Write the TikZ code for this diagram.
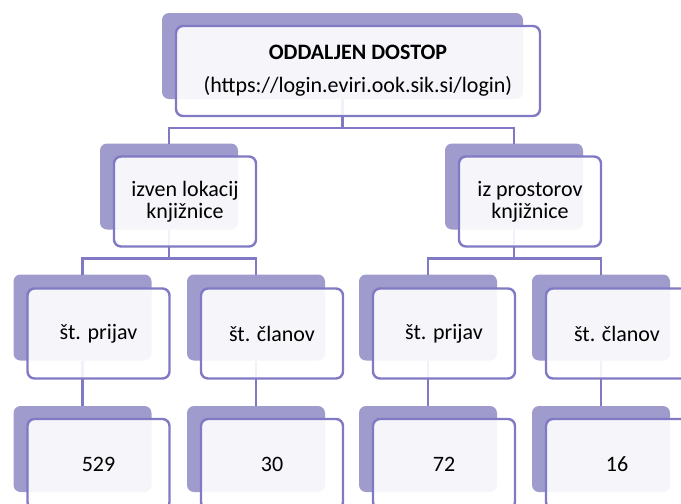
\documentclass[tikz,border=0pt]{standalone}
\usepackage{fontspec}
\setmainfont{Carlito}
\definecolor{backc}{RGB}{160,155,205}
\definecolor{linec}{RGB}{128,122,196}
\begin{document}
\begin{tikzpicture}[x=1pt,y=-1pt,
 backbox/.style={draw=none, fill=backc, rounded corners=7pt, minimum width=138pt, minimum height=86pt, inner sep=0pt, outer sep=0pt},
 frontbox/.style={draw=linec, line width=2.4pt, fill=white, fill opacity=0.9, text opacity=1, rounded corners=7pt, minimum width=142pt, minimum height=90pt, align=center, font=\fontsize{22}{22}\selectfont, inner sep=2pt},
 conn/.style={draw=linec, line width=2.4pt}]
\useasboundingbox (0,0) rectangle (681,504);
% back shapes
\node[backbox, minimum width=361pt] (b0) at (342.5,56) {};
\node[backbox] (b1) at (169,186.5) {};
\node[backbox] (b2) at (514,186.5) {};
\node[backbox] (b3) at (82.5,317.5) {};
\node[backbox] (b4) at (256,317.5) {};
\node[backbox] (b5) at (428,317.5) {};
\node[backbox] (b6) at (601,317.5) {};
\node[backbox] (b7) at (82.5,449) {};
\node[backbox] (b8) at (256,449) {};
\node[backbox] (b9) at (428,449) {};
\node[backbox] (b10) at (601,449) {};
% connectors
\draw[conn] (b0.south) -- ++(0,29) -| (b1.north);
\draw[conn] (b0.south) -- ++(0,29) -| (b2.north);
\draw[conn] (b1.south) -- ++(0,29) -| (b3.north);
\draw[conn] (b1.south) -- ++(0,29) -| (b4.north);
\draw[conn] (b2.south) -- ++(0,29) -| (b5.north);
\draw[conn] (b2.south) -- ++(0,29) -| (b6.north);
\draw[conn] (b3.south) -- (b7.north);
\draw[conn] (b4.south) -- (b8.north);
\draw[conn] (b5.south) -- (b9.north);
\draw[conn] (b6.south) -- (b10.north);
% front shapes
\node[frontbox, minimum width=364pt] (f0) at (358,71) {\textbf{ODDALJEN DOSTOP}\\[11pt](https://login.eviri.ook.sik.si/login)};
\node[frontbox] (f1) at (185,201.5) {izven lokacij\\knjižnice};
\node[frontbox] (f2) at (530,201.5) {iz prostorov\\knjižnice};
\node[frontbox] (f3) at (98.5,333.5) {št. prijav};
\node[frontbox] (f4) at (272,333.5) {št. članov};
\node[frontbox] (f5) at (444,333.5) {št. prijav};
\node[frontbox] (f6) at (617,333.5) {št. članov};
\node[frontbox] (f7) at (98.5,464) {529};
\node[frontbox] (f8) at (272,464) {30};
\node[frontbox] (f9) at (444,464) {72};
\node[frontbox] (f10) at (617,464) {16};
\end{tikzpicture}
\end{document}
